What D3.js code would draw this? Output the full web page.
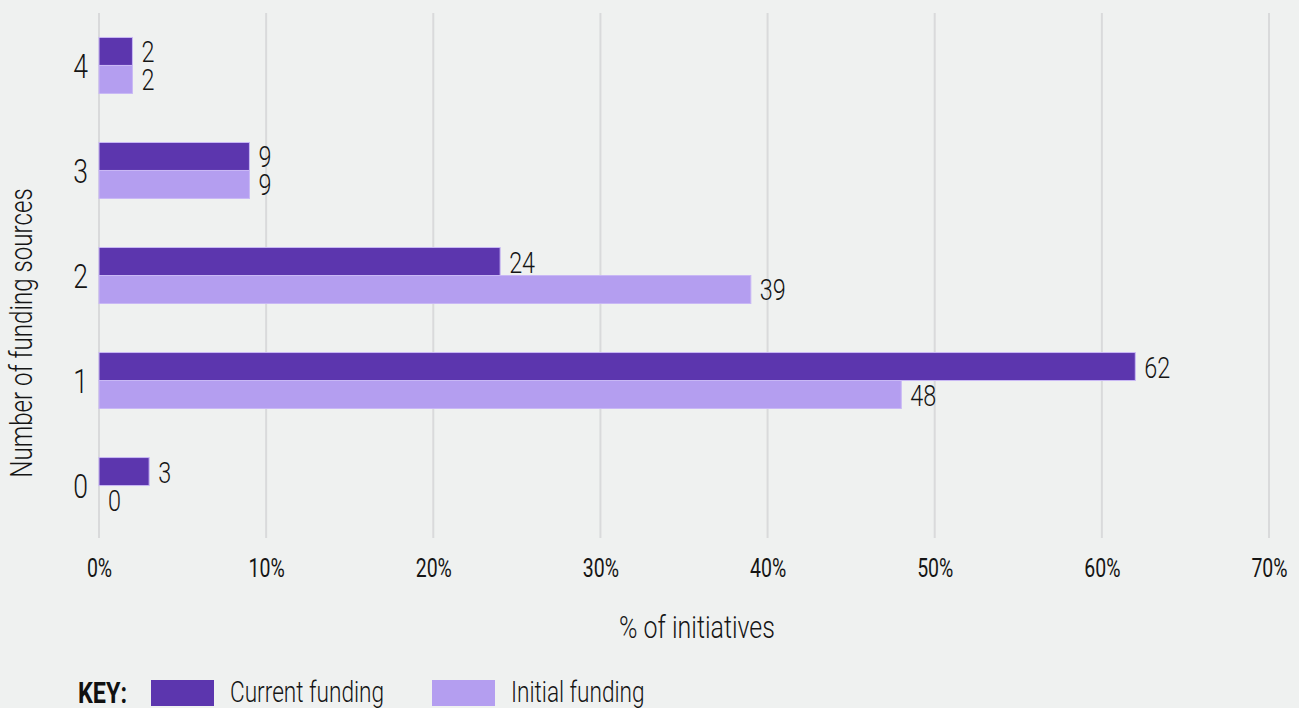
<!DOCTYPE html>
<html>
<head>
<meta charset="utf-8">
<script src="https://cdn.jsdelivr.net/npm/d3@7"></script>
<style>
  html, body { margin: 0; padding: 0; background: #eff1f0; }
  svg { display: block; font-family: "Roboto", "Noto Sans", sans-serif; font-weight: 300; }
</style>
</head>
<body>
<svg id="chart" width="1299" height="708"></svg>
<script>
// Number of funding sources (top to bottom)
const categories = ["4", "3", "2", "1", "0"];
const currentFunding = [2, 9, 24, 62, 3];
const initialFunding = [2, 9, 39, 48, 0];
const xTicks = [0, 10, 20, 30, 40, 50, 60, 70];
const seriesNames = ["Current funding", "Initial funding"];
const seriesColors = ["#5c36ae", "#b49ef0"];

const svg = d3.select("#chart");
const plotLeft = 99, plotRight = 1269, plotTop = 13, plotBottom = 538;
const SQUEEZE = 0.78;   // horizontal squeeze to get a condensed face
const ink = "#151515";

// move x/y into a transform and squeeze the glyphs horizontally
function condense(sel, pre = "") {
  sel.each(function () {
    const t = d3.select(this);
    const tx = +t.attr("x") || 0, ty = +t.attr("y") || 0;
    t.attr("x", null).attr("y", null)
     .attr("transform", `${pre} translate(${tx},${ty}) scale(${SQUEEZE},1)`);
  });
}

const x = d3.scaleLinear().domain([0, 70]).range([plotLeft, plotRight]);
const y = d3.scaleBand().domain(categories).range([plotTop, plotBottom]).paddingInner(0.467).paddingOuter(0.233);
const sub = d3.scaleBand().domain(seriesNames).range([0, y.bandwidth()]);

// vertical gridlines
svg.append("g")
  .selectAll("line")
  .data(xTicks)
  .join("line")
  .attr("x1", d => x(d)).attr("x2", d => x(d))
  .attr("y1", plotTop).attr("y2", plotBottom)
  .attr("stroke", "#d9dadb")
  .attr("stroke-width", 2);

// x axis tick labels
const xAxis = d3.axisBottom(x).tickValues(xTicks).tickFormat(d => d + "%").tickSize(0).tickPadding(0);
const gx = svg.append("g").attr("transform", `translate(0, ${plotBottom + 39})`).call(xAxis)
  .attr("font-family", null).attr("font-size", null);
gx.select(".domain").remove();
gx.selectAll("text")
  .attr("font-size", 25)
  .attr("font-weight", 400)
  .attr("fill", ink)
  .attr("dy", null)
  .call(condense);

// y axis category labels
const yAxis = d3.axisLeft(y).tickSize(0).tickPadding(0);
const gy = svg.append("g").attr("transform", `translate(${plotLeft - 11}, 0)`).call(yAxis)
  .attr("font-family", null).attr("font-size", null);
gy.select(".domain").remove();
gy.selectAll("text")
  .attr("font-size", 34)
  .attr("fill", ink)
  .attr("dy", "0.36em")
  .call(condense);

// bars
const rows = categories.map((c, i) => ({ cat: c, values: [currentFunding[i], initialFunding[i]] }));
const groups = svg.append("g")
  .selectAll("g")
  .data(rows)
  .join("g")
  .attr("transform", d => `translate(0, ${y(d.cat)})`);

groups.selectAll("rect")
  .data(d => d.values.map((v, j) => ({ v, s: seriesNames[j], c: seriesColors[j] })))
  .join("rect")
  .attr("x", x(0))
  .attr("y", d => sub(d.s))
  .attr("width", d => x(d.v) - x(0))
  .attr("height", sub.bandwidth())
  .attr("fill", d => d.c)
  .attr("stroke", d => d.v > 0 ? "#c9b8f5" : "none")
  .attr("stroke-width", 1);

groups.selectAll("text")
  .data(d => d.values.map((v, j) => ({ v, s: seriesNames[j] })))
  .join("text")
  .attr("x", d => x(d.v) + 9)
  .attr("y", d => sub(d.s) + sub.bandwidth() / 2 + 11)
  .attr("font-size", 30)
  .attr("fill", ink)
  .text(d => d.v)
  .call(condense);

// axis titles
svg.append("text")
  .attr("x", (plotLeft + plotRight) / 2 + 13)
  .attr("y", 638)
  .attr("text-anchor", "middle")
  .attr("font-size", 32)
  .attr("fill", ink)
  .text("% of initiatives")
  .call(condense);

svg.append("text")
  .attr("x", 0).attr("y", 0)
  .attr("text-anchor", "middle")
  .attr("font-size", 31)
  .attr("fill", ink)
  .text("Number of funding sources")
  .call(condense, "translate(32, 333) rotate(-90)");

// legend
const legend = svg.append("g").attr("transform", "translate(78, 680)");
legend.append("text")
  .attr("x", 0).attr("y", 23)
  .attr("font-size", 30)
  .attr("font-weight", 700)
  .attr("fill", "#111")
  .text("KEY:")
  .call(condense);

const items = legend.selectAll("g.item")
  .data(seriesNames)
  .join("g")
  .attr("class", "item")
  .attr("transform", (d, i) => `translate(${73 + i * 281}, 0)`);
items.append("rect")
  .attr("width", 63).attr("height", 26)
  .attr("fill", (d, i) => seriesColors[i]);
items.append("text")
  .attr("x", 79).attr("y", 22)
  .attr("font-size", 29)
  .attr("fill", ink)
  .text(d => d)
  .call(condense);
</script>
</body>
</html>
